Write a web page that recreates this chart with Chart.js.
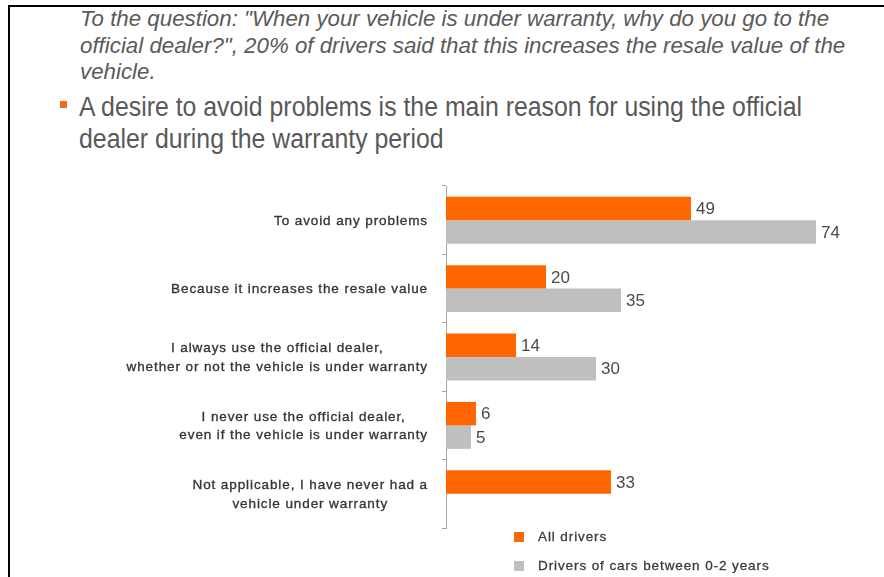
<!DOCTYPE html>
<html>
<head>
<meta charset="utf-8">
<script src="https://cdn.jsdelivr.net/npm/chart.js@4.4.1/dist/chart.umd.min.js"></script>
<style>
  html, body { margin: 0; padding: 0; background: #fff; }
  #page { position: relative; width: 884px; height: 577px; overflow: hidden; background: #fff; }
  #frame { position: absolute; left: 8px; top: 5px; width: 900px; height: 600px; border-left: 2px solid #000; border-top: 2px solid #000; }
  #chart { position: absolute; left: 0; top: 0; }
  .intro { position: absolute; left: 80px; top: 6px; font-family: "Liberation Sans", Arial, sans-serif; font-style: italic; font-size: 22.3px; line-height: 26.5px; color: #5a5a5a; white-space: nowrap; }
  .bullet { position: absolute; left: 79px; top: 91px; font-family: "Liberation Sans Narrow", "Arial Narrow", "Liberation Sans", sans-serif; font-size: 27px; line-height: 32px; color: #595959; white-space: nowrap; transform: scaleX(0.92); transform-origin: 0 0; }
  .dot { position: absolute; left: 60px; top: 101px; width: 7px; height: 7px; background: #f26b1d; }
  .legend { position: absolute; left: 514px; font-family: "Liberation Sans", Arial, sans-serif; font-size: 13.5px; letter-spacing: 0.9px; color: #3a3a3a; white-space: nowrap; -webkit-text-stroke: 0.3px #3a3a3a; }
  .legend span { display: inline-block; width: 10px; height: 10px; margin-right: 14px; vertical-align: -1px; }
</style>
</head>
<body>
<div id="page">
  <div id="frame"></div>
  <div class="intro">To the question: "When your vehicle is under warranty, why do you go to the<br>official dealer?", 20% of drivers said that this increases the resale value of the<br>vehicle.</div>
  <div class="dot"></div>
  <div class="bullet">A desire to avoid problems is the main reason for using the official<br>dealer during the warranty period</div>
  <canvas id="chart" width="884" height="577"></canvas>
  <div class="legend" style="top:529px"><span style="background:#FF6600"></span>All drivers</div>
  <div class="legend" style="top:558px"><span style="background:#BFBFBF"></span>Drivers of cars between 0-2 years</div>
</div>
<script>
// 数据
var categories = [
    ["To avoid any problems"],
    ["Because it increases the resale value"],
    ["I always use the official dealer,", "whether or not the vehicle is under warranty"],
    ["I never use the official dealer,", "even if the vehicle is under warranty"],
    ["Not applicable, I have never had a", "vehicle under warranty"]
]
var allDrivers = [49, 20, 14, 6, 33]
var newCarDrivers = [74, 35, 30, 5, null]
var seriesNames = ["All drivers", "Drivers of cars between 0-2 years"]

//类别标签 + 数值标签
var labelPlugin = {
    id: 'labelPlugin',
    afterDraw: (chart) => {
        var ctx = chart.ctx
        var yScale = chart.scales.y
        ctx.save()
        ctx.font = '13.5px "Liberation Sans", Arial, sans-serif'
        ctx.letterSpacing = '0.9px'
        ctx.fillStyle = '#353535'
        ctx.strokeStyle = '#353535'
        ctx.lineWidth = 0.35
        ctx.textBaseline = 'middle'
        ctx.textAlign = 'center'
        categories.forEach((lines, i) => {
            var y = yScale.getPixelForValue(i)
            var w = Math.max(...lines.map(l => ctx.measureText(l).width))
            var cx = 428 - w / 2
            var lh = 18.5
            lines.forEach((l, k) => {
                var ly = y + (k - (lines.length - 1) / 2) * lh + 1
                ctx.fillText(l, cx, ly)
                ctx.strokeText(l, cx, ly)
            })
        })
        ctx.font = '17px "Liberation Sans", Arial, sans-serif'
        ctx.letterSpacing = '0px'
        ctx.fillStyle = '#4a4a4a'
        ctx.textAlign = 'left'
        chart.data.datasets.forEach((ds, di) => {
            chart.getDatasetMeta(di).data.forEach((bar, i) => {
                if (ds.data[i] == null) return
                ctx.fillText(ds.data[i], bar.x + 5, bar.y + 1)
            })
        })
        ctx.restore()
    }
}

var chart = new Chart(document.getElementById('chart'), {
    type: 'bar',
    data: {
        labels: categories,
        datasets: [{
            label: seriesNames[0],
            data: allDrivers,
            backgroundColor: '#FF6600',
            barPercentage: 1,
            categoryPercentage: 0.686
        }, {
            label: seriesNames[1],
            data: newCarDrivers,
            backgroundColor: '#BFBFBF',
            barPercentage: 1,
            categoryPercentage: 0.686
        }]
    },
    options: {
        indexAxis: 'y',
        responsive: false,
        animation: false,
        devicePixelRatio: 1,
        layout: {
            padding: {left: 0, top: 186, right: 38, bottom: 49}
        },
        plugins: {
            legend: {display: false},
            tooltip: {enabled: false}
        },
        scales: {
            x: {
                display: false,
                min: 0,
                max: 80
            },
            y: {
                afterFit: (scale) => { scale.width = 446 },
                ticks: {display: false},
                border: {color: '#A6A6A6', width: 1},
                grid: {
                    offset: true,
                    drawOnChartArea: false,
                    tickLength: 4,
                    color: '#A6A6A6'
                }
            }
        }
    },
    plugins: [labelPlugin]
})
</script>
</body>
</html>
